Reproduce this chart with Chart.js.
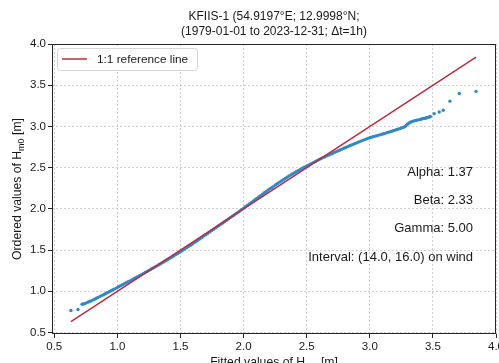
<!DOCTYPE html>
<html>
<head>
<meta charset="utf-8">
<script src="https://cdn.jsdelivr.net/npm/chart.js@4.4.1/dist/chart.umd.min.js"></script>
<style>
  html, body { margin: 0; padding: 0; background: #ffffff; }
  #wrap { width: 499px; height: 363px; }
</style>
</head>
<body>
<div id="wrap"><canvas id="qq" width="499" height="363"></canvas></div>
<script>
// Q-Q plot of hourly significant wave height against the fitted distribution
const titleLines = [
  'KFIIS-1 (54.9197°E; 12.9998°N;',
  '(1979-01-01 to 2023-12-31; \u0394t=1h)'
];

// Fitted (theoretical) quantiles, m
const fittedH = [
  0.632, 0.688, 0.720, 0.730, 0.740, 0.755, 0.770, 0.785, 0.800, 0.815,
  0.830, 0.845, 0.860, 0.875, 0.890, 0.905, 0.920, 0.935, 0.950, 0.965,
  0.980, 0.995, 1.010, 1.025, 1.040, 1.055, 1.070, 1.085, 1.100, 1.115,
  1.130, 1.145, 1.160, 1.175, 1.190, 1.205, 1.220, 1.235, 1.250, 1.265,
  1.280, 1.295, 1.310, 1.325, 1.340, 1.355, 1.370, 1.385, 1.400, 1.415,
  1.430, 1.445, 1.460, 1.475, 1.490, 1.505, 1.520, 1.535, 1.550, 1.565,
  1.580, 1.595, 1.610, 1.625, 1.640, 1.655, 1.670, 1.685, 1.700, 1.715,
  1.730, 1.745, 1.760, 1.775, 1.790, 1.805, 1.820, 1.835, 1.850, 1.865,
  1.880, 1.895, 1.910, 1.925, 1.940, 1.955, 1.970, 1.985, 2.000, 2.015,
  2.030, 2.045, 2.060, 2.075, 2.090, 2.105, 2.120, 2.135, 2.150, 2.165,
  2.180, 2.195, 2.210, 2.225, 2.240, 2.255, 2.270, 2.285, 2.300, 2.315,
  2.330, 2.345, 2.360, 2.375, 2.390, 2.405, 2.420, 2.435, 2.450, 2.465,
  2.480, 2.495, 2.510, 2.525, 2.540, 2.555, 2.570, 2.585, 2.600, 2.615,
  2.630, 2.645, 2.660, 2.675, 2.690, 2.705, 2.720, 2.735, 2.750, 2.765,
  2.780, 2.795, 2.810, 2.825, 2.840, 2.855, 2.870, 2.885, 2.900, 2.915,
  2.930, 2.945, 2.960, 2.975, 2.990, 3.005, 3.020, 3.035, 3.050, 3.065,
  3.080, 3.095, 3.110, 3.125, 3.140, 3.155, 3.170, 3.185, 3.200, 3.215,
  3.230, 3.245, 3.260, 3.270, 3.280, 3.290, 3.300, 3.310, 3.320, 3.333,
  3.345, 3.357, 3.370, 3.385, 3.400, 3.410, 3.420, 3.430, 3.440, 3.450,
  3.460, 3.470, 3.480, 3.510, 3.550, 3.582, 3.635, 3.709, 3.842
];

// Ordered (observed) values, m
const orderedH = [
  0.767, 0.779, 0.844, 0.846, 0.850, 0.860, 0.870, 0.880, 0.890, 0.901,
  0.913, 0.925, 0.936, 0.948, 0.959, 0.971, 0.982, 0.994, 1.006, 1.018,
  1.030, 1.042, 1.055, 1.067, 1.080, 1.091, 1.103, 1.115, 1.127, 1.139,
  1.152, 1.164, 1.177, 1.189, 1.202, 1.215, 1.228, 1.241, 1.254, 1.267,
  1.280, 1.293, 1.306, 1.319, 1.332, 1.345, 1.359, 1.372, 1.386, 1.400,
  1.414, 1.428, 1.442, 1.456, 1.471, 1.485, 1.500, 1.515, 1.530, 1.545,
  1.560, 1.575, 1.591, 1.606, 1.622, 1.638, 1.654, 1.670, 1.686, 1.702,
  1.718, 1.734, 1.750, 1.766, 1.782, 1.798, 1.814, 1.830, 1.846, 1.862,
  1.878, 1.894, 1.910, 1.926, 1.942, 1.958, 1.975, 1.991, 2.008, 2.025,
  2.042, 2.059, 2.076, 2.093, 2.110, 2.127, 2.144, 2.161, 2.178, 2.195,
  2.211, 2.228, 2.244, 2.260, 2.276, 2.292, 2.308, 2.324, 2.339, 2.354,
  2.369, 2.384, 2.398, 2.412, 2.426, 2.440, 2.453, 2.466, 2.479, 2.492,
  2.504, 2.516, 2.528, 2.540, 2.552, 2.564, 2.576, 2.588, 2.600, 2.611,
  2.622, 2.633, 2.643, 2.654, 2.664, 2.675, 2.685, 2.695, 2.705, 2.715,
  2.725, 2.735, 2.745, 2.755, 2.765, 2.775, 2.784, 2.794, 2.803, 2.813,
  2.822, 2.831, 2.840, 2.849, 2.858, 2.865, 2.872, 2.879, 2.885, 2.892,
  2.898, 2.905, 2.912, 2.919, 2.926, 2.933, 2.940, 2.948, 2.955, 2.962,
  2.970, 2.978, 2.985, 2.992, 3.000, 3.015, 3.030, 3.040, 3.050, 3.058,
  3.065, 3.070, 3.075, 3.080, 3.085, 3.090, 3.095, 3.098, 3.100, 3.105,
  3.110, 3.115, 3.120, 3.155, 3.175, 3.197, 3.307, 3.400, 3.425
];

const tickValues = [0.5, 1.0, 1.5, 2.0, 2.5, 3.0, 3.5, 4.0];

const statLabels = [
  'Alpha: 1.37',
  'Beta: 2.33',
  'Gamma: 5.00',
  'Interval: (14.0, 16.0) on wind'
];

const refLabel = '1:1 reference line';
const FONT = '"Liberation Sans", Arial, Helvetica, sans-serif';
const TEXT = '#1a1a1a';
const BLUE = '#3189c6';
const RED = '#c02a3e';

const qqPoints = fittedH.map((v, i) => ({ x: v, y: orderedH[i] }));
const lo = Math.min(...fittedH);
const hi = Math.max(...fittedH);
const refPoints = [{ x: lo, y: lo }, { x: hi, y: hi }];

// Draws text with a subscript part: [main, sub, tail]
function drawSubText(ctx, parts, x, y, size, align) {
  const [a, sub, b] = parts;
  const subSize = Math.round(size * 0.72);
  ctx.font = size + 'px ' + FONT;
  const wa = ctx.measureText(a).width;
  const wb = ctx.measureText(b).width;
  ctx.font = subSize + 'px ' + FONT;
  const ws = ctx.measureText(sub).width;
  const total = wa + ws + wb;
  const x0 = align === 'center' ? x - total / 2 : x;
  ctx.textAlign = 'left';
  ctx.textBaseline = 'alphabetic';
  ctx.font = size + 'px ' + FONT;
  ctx.fillText(a, x0, y);
  ctx.font = subSize + 'px ' + FONT;
  ctx.fillText(sub, x0 + wa, y + size * 0.28);
  ctx.font = size + 'px ' + FONT;
  ctx.fillText(b, x0 + wa + ws, y);
}

const decorations = {
  id: 'decorations',
  afterDraw(chart) {
    const ctx = chart.ctx;
    const ca = chart.chartArea;
    ctx.save();

    // frame
    ctx.strokeStyle = '#262626';
    ctx.lineWidth = 1;
    ctx.strokeRect(Math.round(ca.left) + 0.5, Math.round(ca.top) + 0.5,
                   Math.round(ca.right - ca.left) - 1, Math.round(ca.bottom - ca.top) - 1);

    // legend
    const lx = ca.left + 5, ly = ca.top + 4, lw = 140, lh = 22;
    ctx.beginPath();
    ctx.roundRect(lx + 0.5, ly + 0.5, lw, lh, 3);
    ctx.fillStyle = 'rgba(255,255,255,0.85)';
    ctx.fill();
    ctx.strokeStyle = '#d6d6d6';
    ctx.lineWidth = 1;
    ctx.stroke();
    ctx.beginPath();
    ctx.moveTo(lx + 5, ly + 11);
    ctx.lineTo(lx + 30, ly + 11);
    ctx.strokeStyle = RED;
    ctx.lineWidth = 1.5;
    ctx.stroke();
    ctx.fillStyle = TEXT;
    ctx.font = '11.8px ' + FONT;
    ctx.textAlign = 'left';
    ctx.textBaseline = 'middle';
    ctx.fillText(refLabel, lx + 40, ly + 11.5);

    // fit parameters
    ctx.textAlign = 'right';
    ctx.font = '13px ' + FONT;
    const ys = [172, 200, 228, 257];
    statLabels.forEach((s, i) => ctx.fillText(s, ca.right - 23, ys[i]));

    // title
    const cx = (ca.left + ca.right) / 2;
    ctx.textAlign = 'center';
    ctx.font = '12px ' + FONT;
    ctx.fillText(titleLines[0], cx, 17);
    ctx.fillText(titleLines[1], cx, 31.5);

    // axis titles
    drawSubText(ctx, ['Fitted values of H', 'm0', ' [m]'], cx, 365.5, 12.2, 'center');
    ctx.save();
    ctx.translate(21, (ca.top + ca.bottom) / 2);
    ctx.rotate(-Math.PI / 2);
    drawSubText(ctx, ['Ordered values of H', 'm0', ' [m]'], 0, 0, 12.2, 'center');
    ctx.restore();

    ctx.restore();
  }
};

function axisCfg(isX) {
  return {
    type: 'linear',
    min: 0.482,
    max: 4.0,
    afterBuildTicks(axis) { axis.ticks = tickValues.map(v => ({ value: v })); },
    afterFit(axis) {
      if (isX) { axis.height = 29; axis.paddingLeft = 0; axis.paddingRight = 0; }
      else { axis.width = 52; axis.paddingTop = 0; axis.paddingBottom = 0; }
    },
    grid: {
      color: '#c4c4c4',
      lineWidth: 0.8,
      drawTicks: true,
      tickLength: 4,
      tickColor: '#262626',
      tickWidth: 1,
      tickBorderDash: []
    },
    border: { display: false, dash: [2, 2] },
    ticks: {
      autoSkip: false,
      maxRotation: 0,
      padding: 2,
      color: TEXT,
      font: { family: FONT, size: 11.5 },
      callback: v => Number(v).toFixed(1)
    },
    title: { display: false }
  };
}

new Chart(document.getElementById('qq'), {
  type: 'scatter',
  data: {
    datasets: [
      {
        label: refLabel,
        data: refPoints,
        showLine: true,
        borderColor: RED,
        borderWidth: 1.5,
        pointRadius: 0,
        fill: false
      },
      {
        label: 'Ordered values',
        data: qqPoints,
        backgroundColor: BLUE,
        borderWidth: 0,
        pointRadius: 1.7,
        pointHoverRadius: 1.7
      }
    ]
  },
  options: {
    responsive: false,
    animation: false,
    devicePixelRatio: 1,
    layout: { padding: { left: 0, right: 3, top: 44, bottom: 0 } },
    plugins: {
      legend: { display: false },
      title: { display: false },
      tooltip: { enabled: false }
    },
    scales: { x: axisCfg(true), y: axisCfg(false) }
  },
  plugins: [decorations]
});
</script>
</body>
</html>
